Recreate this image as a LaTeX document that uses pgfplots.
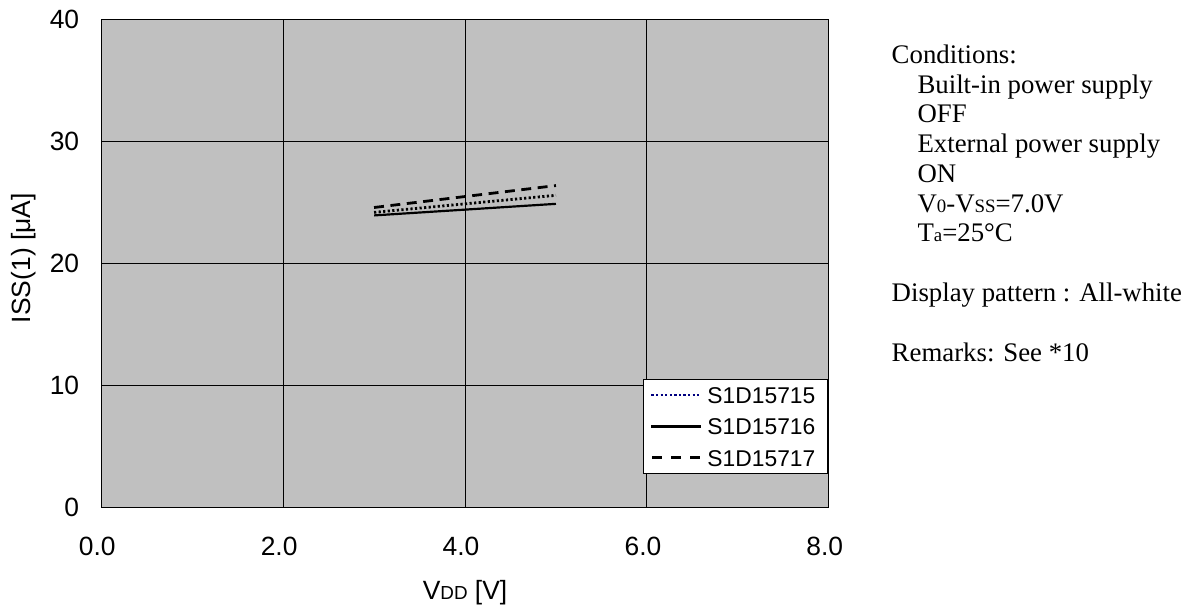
\documentclass[border=0pt]{standalone}
\usepackage{pgfplots}
\pgfplotsset{compat=1.18}
\usepackage{fontspec}
\setmainfont{Liberation Serif}
\newfontfamily\arial{Liberation Sans}
\definecolor{plotgray}{HTML}{C0C0C0}
\definecolor{navyc}{HTML}{000080}
\newcommand\smA[1]{{\fontsize{9.5}{9.5}\selectfont #1}}
\newcommand\smT[1]{{\fontsize{9.5}{9.5}\selectfont #1}}
\begin{document}
\begin{tikzpicture}
\path (-51pt,-49pt) rectangle (540pt,255.5pt);
\begin{axis}[
  scale only axis,
  width=366.5pt, height=245.5pt,
  xmin=0, xmax=8, ymin=0, ymax=40,
  xtick={0,2,4,6,8}, ytick={0,10,20,30,40},
  xticklabel style={/pgf/number format/.cd,fixed,fixed zerofill,precision=1,/tikz/.cd, yshift=-11.5pt, xshift=-2pt},
  yticklabel style={xshift=-7.6pt},
  /pgf/number format/assume math mode=true,
  tick label style={font=\arial\fontsize{13.3}{14}\selectfont},
  major tick length=0pt,
  axis background/.style={fill=plotgray},
  grid=major,
  major grid style={black, line width=0.5pt},
  axis line style={black, line width=0.6pt},
  xlabel={V\smA{DD} [V]},
  ylabel={ISS(1) [μA]},
  label style={font=\arial\fontsize{13.3}{14}\selectfont},
  xlabel style={at={(axis description cs:0.5,-0.176)}, anchor=center},
  ylabel style={at={(axis description cs:-0.106,0.511)}, anchor=center, rotate=0},
  legend style={at={(rel axis cs:0.9986,0.0692)}, anchor=south east,
    font=\arial\fontsize{11.5}{12}\selectfont, draw=black, fill=white,
    line width=0.5pt, inner xsep=3.5pt, inner ysep=3.5pt, row sep=7.5pt,
    nodes={inner xsep=2.5pt, inner ysep=0pt, text height=8.3pt, text depth=0pt},
    cells={anchor=west}},
  legend image code/.code={\draw[#1] (0pt,0pt) -- (25pt,0pt);},
]
\addplot[black, line width=1.4pt, dash pattern=on 1.1pt off 1.2pt,
  legend image code/.code={\draw[navyc, line width=1.4pt, dash pattern=on 1.1pt off 1.2pt] (0pt,0pt) -- (25pt,0pt);}]
  coordinates {(3.0,24.2) (5.0,25.6)};
\addlegendentry{S1D15715}
\addplot[black, line width=1.1pt] coordinates {(3.0,23.95) (5.0,24.9)};
\addlegendentry{S1D15716}
\addplot[black, line width=1.4pt, dash pattern=on 5pt off 3.3pt,
  legend image code/.code={\draw[black, line width=1.5pt, dash pattern=on 5pt off 4.5pt] (0.5pt,0pt) -- (24.5pt,0pt);}]
  coordinates {(3.0,24.6) (5.0,26.4)};
\addlegendentry{S1D15717}
\end{axis}
\node[anchor=north west, align=left, inner sep=0pt, font=\fontsize{13.5}{15}\selectfont] at (398pt, 233.2pt) {%
Conditions:\\
\hspace*{13pt}Built-in power supply\\
\hspace*{13pt}OFF\\
\hspace*{13pt}External power supply\\
\hspace*{13pt}ON\\
\hspace*{13pt}V\smT{0}-V\smT{SS}=7.0V\\
\hspace*{13pt}T\smT{a}=25°C\\[15pt]
Display pattern : All-white\\[15pt]
Remarks: See *10};
\end{tikzpicture}
\end{document}
